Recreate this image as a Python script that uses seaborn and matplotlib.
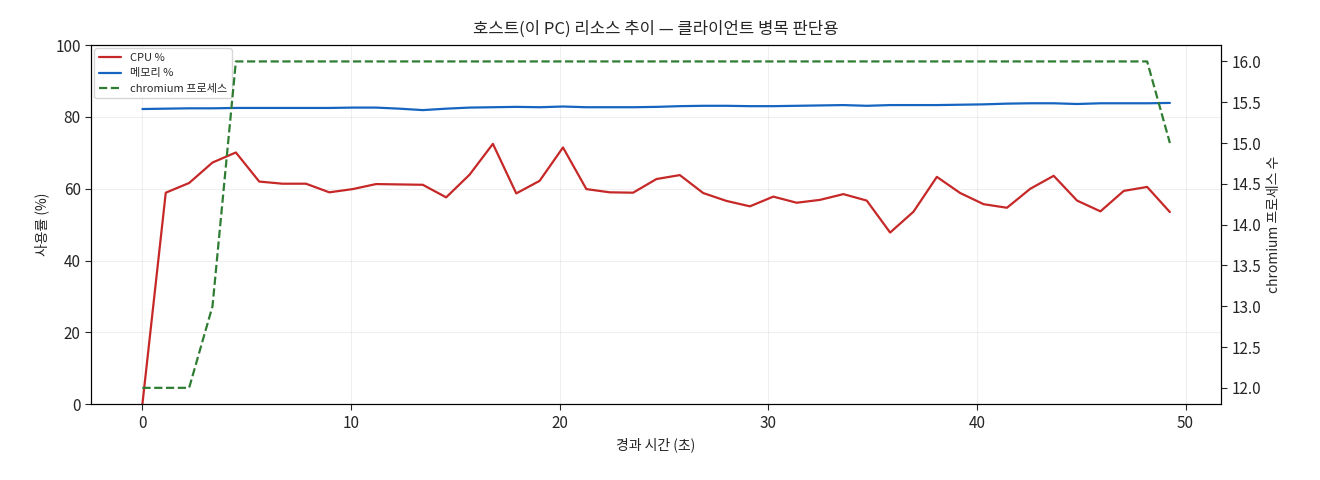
import matplotlib
matplotlib.use("Agg")
import matplotlib.pyplot as plt
import seaborn as sns
import pandas as pd

sns.set_style("white")
plt.rcParams['font.family'] = ['Noto Sans CJK KR', 'DejaVu Sans']
plt.rcParams['axes.unicode_minus'] = False

t = [0.0, 1.12, 2.24, 3.36, 4.48, 5.6, 6.72, 7.84, 8.96, 10.08, 11.2, 12.32, 13.44, 14.56, 15.68,
     16.8, 17.92, 19.04, 20.16, 21.28, 22.4, 23.52, 24.64, 25.76, 26.88, 28.0, 29.12, 30.24,
     31.36, 32.48, 33.6, 34.72, 35.84, 36.96, 38.08, 39.2, 40.32, 41.44, 42.56, 43.68, 44.8,
     45.92, 47.04, 48.16, 49.25]
cpu = [0, 58.9, 61.6, 67.3, 70.1, 62.0, 61.4, 61.4, 59.0, 59.9, 61.3, 61.2, 61.1, 57.6, 63.9,
       72.5, 58.7, 62.2, 71.5, 59.9, 59.0, 58.9, 62.7, 63.8, 58.8, 56.6, 55.1, 57.8, 56.1, 56.9,
       58.5, 56.7, 47.8, 53.6, 63.3, 58.8, 55.7, 54.7, 60.0, 63.6, 56.7, 53.7, 59.4, 60.5, 53.5]
mem = [82.2, 82.3, 82.4, 82.4, 82.5, 82.5, 82.5, 82.5, 82.5, 82.6, 82.6, 82.3, 81.9, 82.3, 82.6,
       82.7, 82.8, 82.7, 82.9, 82.7, 82.7, 82.7, 82.8, 83.0, 83.1, 83.1, 83.0, 83.0, 83.1, 83.2,
       83.3, 83.1, 83.3, 83.3, 83.3, 83.4, 83.5, 83.7, 83.8, 83.8, 83.6, 83.8, 83.8, 83.8, 83.9]
proc = [12, 12, 12, 13, 16, 16, 16, 16, 16, 16, 16, 16, 16, 16, 16, 16, 16, 16, 16, 16, 16, 16,
        16, 16, 16, 16, 16, 16, 16, 16, 16, 16, 16, 16, 16, 16, 16, 16, 16, 16, 16, 16, 16, 16, 15]

df = pd.DataFrame({"t": t, "cpu": cpu, "mem": mem, "proc": proc})

fig, ax = plt.subplots(figsize=(13.2, 4.8), dpi=100)
fig.subplots_adjust(left=0.069, right=0.925, top=0.906, bottom=0.158)
sns.lineplot(data=df, x="t", y="cpu", ax=ax, color="#c62828", lw=1.6, label="CPU %", legend=False)
sns.lineplot(data=df, x="t", y="mem", ax=ax, color="#1565c0", lw=1.6, label="메모리 %", legend=False)
ax2 = ax.twinx()
sns.lineplot(data=df, x="t", y="proc", ax=ax2, color="#2e7d32", lw=1.6, ls="--",
             label="chromium 프로세스", legend=False)
ax.set_ylim(0, 100)
ax2.set_ylim(11.8, 16.2)
ax.set_xlim(-2.46, 51.7)
ax.grid(True, alpha=0.3)
for a in (ax, ax2):
    for s in a.spines.values():
        s.set_color("black")
    a.tick_params(labelsize=11, length=4)
ax.tick_params(axis='both', which='both', bottom=True, left=True)
ax2.tick_params(axis='y', right=True)
ax.set_xlabel("경과 시간 (초)", fontsize=10)
ax.set_ylabel("사용률 (%)", fontsize=10)
ax2.set_ylabel("chromium 프로세스 수", fontsize=10)
ax.set_title("호스트(이 PC) 리소스 추이 — 클라이언트 병목 판단용", fontsize=12, pad=8)
h1, l1 = ax.get_legend_handles_labels()
h2, l2 = ax2.get_legend_handles_labels()
ax.legend(h1 + h2, l1 + l2, loc="upper left", fontsize=8, borderaxespad=0.3)
fig.savefig("out.png")
